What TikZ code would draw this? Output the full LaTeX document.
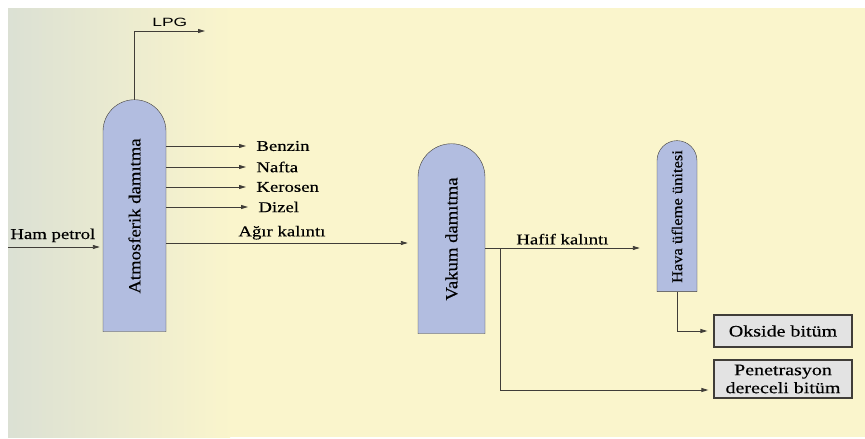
\documentclass[tikz,border=0pt]{standalone}
\usepackage{fontspec}
\setmainfont{Liberation Serif}[FakeStretch=1.25,FakeBold=0.3]
\newfontfamily\colfont{Liberation Serif}[FakeStretch=1.1,FakeBold=0.3]
\newfontfamily\lpgfont{Liberation Sans}[FakeStretch=1.45]
\usetikzlibrary{arrows.meta,shapes.misc,calc}
\definecolor{cream}{rgb}{.98,.96,.80}
\definecolor{greyleft}{rgb}{.86,.88,.83}
\definecolor{colblue}{rgb}{.70,.74,.88}
\definecolor{boxgrey}{rgb}{.89,.89,.89}
\definecolor{linegrey}{rgb}{.25,.24,.22}

\begin{document}
\begin{tikzpicture}[x=1pt,y=-1pt,line width=.9pt,-{Triangle[length=7pt,width=4pt]},font=\fontsize{15}{17}\selectfont]

  \tikzstyle{column}=[draw=linegrey,thin,fill=colblue,shape=rounded rectangle,rounded rectangle west arc=none,rotate=90,inner sep=0pt,font=\colfont\fontsize{17}{19}\selectfont]
  \tikzstyle{product}=[draw=linegrey,line width=1.2pt,fill=boxgrey,minimum width=138pt,align=center,inner sep=1pt,font=\fontsize{16}{18}\selectfont]
  \tikzstyle{lbl}=[inner sep=1pt,text=black]

  % background
  \useasboundingbox (0,0) rectangle (865,439);
  \fill[white,-] (0,0) rectangle (865,439);
  \fill[cream,-] (8,8) rectangle (865,437);
  \shade[left color=greyleft,right color=cream,-] (8,8) rectangle (230,437);

  \node[column,minimum width=232pt,minimum height=63pt] (atm) at (134.5,216) {Atmosferik damıtma};
  \node[column,minimum width=190pt,minimum height=67pt] (vak) at (451.5,239) {Vakum damıtma};
  \node[column,minimum width=151pt,minimum height=40pt,font=\colfont\fontsize{15}{17}\selectfont] (hava) at (677,216.5) {Hava üfleme ünitesi};
  \node[product,minimum height=32pt] (oks) at (783,331) {Okside bitüm};
  \node[product,minimum height=38pt] (pen) at (783,379) {Penetrasyon\\dereceli bitüm};

  \node[lbl,anchor=west] (benzin)  at (255,146) {Benzin};
  \node[lbl,anchor=west] (nafta)   at (255,167) {Nafta};
  \node[lbl,anchor=west] (kerosen) at (255,187) {Kerosen};
  \node[lbl,anchor=west] (dizel)   at (257,207) {Dizel};
  \node[lbl,anchor=base west] (hamlbl) at (9,239) {Ham petrol};

  \coordinate (feed) at (8,247);
  \coordinate (lpg)  at (205,31);
  \coordinate (agir) at (300,243);
  \coordinate (hafif) at (560,248);
  \coordinate (br)   at (500,248);

  \draw[linegrey] (atm.east) |- (lpg) node[lbl,pos=.75,above=3pt,font=\lpgfont\fontsize{12}{14}\selectfont] (lpglbl) {LPG};

  \foreach \p in {benzin,nafta,kerosen,dizel}
    \draw[linegrey,shorten >=9pt] (atm.south |- \p.west) -- (\p.west);

  \draw[linegrey,shorten >=3pt] (feed) -- (atm.north |- feed);
  \draw[linegrey,shorten >=10pt] (atm.south |- agir) -- (vak.north |- agir) node[lbl,pos=.46,above=2pt] (agirlbl) {Ağır kalıntı};
  \draw[linegrey,shorten >=17pt] (vak.south |- hafif) -- (hava.north |- hafif) node[lbl,pos=.45,above=2pt] (hafiflbl) {Hafif kalıntı};
  \draw[linegrey,shorten >=5pt] (br) |- ([yshift=-11pt]pen.west);
  \draw[linegrey,shorten >=6pt] (hava.west) |- (oks.west);

\end{tikzpicture}
\end{document}
